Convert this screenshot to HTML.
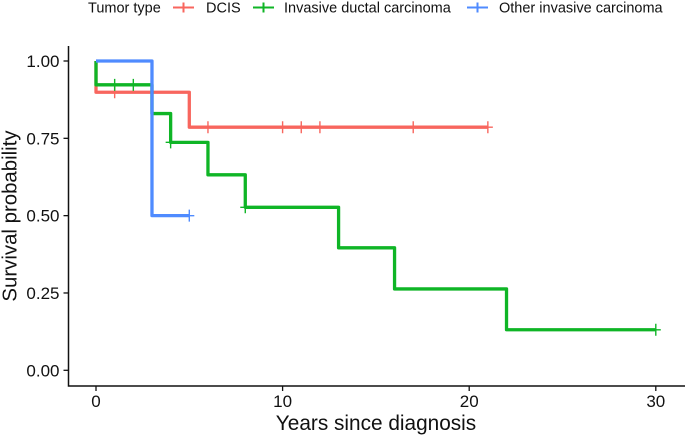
<!DOCTYPE html>
<html>
<head>
<meta charset="utf-8">
<style>
html,body{margin:0;padding:0;background:#fff;}
svg{display:block;font-family:"Liberation Sans",Arial,sans-serif;}
</style>
</head>
<body>
<svg id="chart" width="685" height="437" viewBox="0 0 685 437" xmlns="http://www.w3.org/2000/svg">
  <rect width="685" height="437" fill="#fff"/>
  <g font-size="14.5" fill="#111">
    <text x="88" y="12.500">Tumor type</text>
    <g>
      <path d="M173 7.500H194M183.500 2.500V12.500" stroke="#F8665E" stroke-width="2" fill="none"/>
      <text x="206" y="12.500">DCIS</text>
    </g>
    <g>
      <path d="M253 7.500H274M263.500 2.500V12.500" stroke="#0FB526" stroke-width="2" fill="none"/>
      <text x="284" y="12.500">Invasive ductal carcinoma</text>
    </g>
    <g>
      <path d="M467 7.500H488M477.500 2.500V12.500" stroke="#4F8BFF" stroke-width="2" fill="none"/>
      <text x="499" y="12.500">Other invasive carcinoma</text>
    </g>
  </g>
  <g id="marks"></g>
  <g id="axes"></g>
  <text x="376" y="430" font-size="20.800" text-anchor="middle" fill="#111">Years since diagnosis</text>
  <text transform="translate(16.500,216) rotate(-90)" font-size="20.400" text-anchor="middle" fill="#111">Survival probability</text>
</svg>
<script>
var xTicks = [0, 10, 20, 30];
var yTicks = [0, 0.25, 0.5, 0.75, 1];
var yTickLabels = ['0.00', '0.25', '0.50', '0.75', '1.00'];

var dcisTimes = [0, 5, 21];
var dcisSurvival = [0.899, 0.786, 0.786];
var dcisCensor = [1, 6, 10, 11, 12, 17, 21];

var ductalTimes = [0, 3, 4, 6, 8, 13, 16, 22, 30];
var ductalSurvival = [0.923, 0.83, 0.737, 0.632, 0.527, 0.396, 0.263, 0.131, 0.131];
var ductalCensor = [1, 2, 4, 8, 30];

var otherTimes = [0, 3, 5];
var otherSurvival = [1, 0.5, 0.5];
var otherCensor = [5];

function xScale(v) { return 96 + v * 18.66; }
function yScale(v) { return 370.3 - v * 309.3; }

var NS = 'http://www.w3.org/2000/svg';
var marks = document.getElementById('marks');
var axes = document.getElementById('axes');

function survivalAt(times, surv, t) {
  var s = 1;
  for (var i = 0; i < times.length; i++) { if (times[i] <= t) { s = surv[i]; } }
  return s;
}

function drawSeries(name, color, times, surv, censor) {
  var d = 'M' + xScale(0) + ' ' + yScale(1);
  for (var i = 0; i < times.length; i++) {
    d += 'V' + yScale(surv[i]) + 'H' + xScale(i + 1 < times.length ? times[i + 1] : times[i]);
  }
  var line = document.createElementNS(NS, 'path');
  
  
  line.setAttribute('d', d);
  line.setAttribute('fill', 'none');
  line.setAttribute('stroke', color);
  line.setAttribute('stroke-width', '3.300');
  line.setAttribute('stroke-linejoin', 'round');
  marks.appendChild(line);
  censor.forEach(function (t) {
    var cx = xScale(t), cy = yScale(survivalAt(times, surv, t));
    var m = document.createElementNS(NS, 'path');
    
    
    m.setAttribute('d', 'M' + (cx - 5) + ' ' + cy + 'H' + (cx + 5) + 'M' + cx + ' ' + (cy - 6) + 'V' + (cy + 6));
    m.setAttribute('fill', 'none');
    m.setAttribute('stroke', color);
    m.setAttribute('stroke-width', '1.400');
    marks.appendChild(m);
  });
}

drawSeries('dcis', '#F8665E', dcisTimes, dcisSurvival, dcisCensor);
drawSeries('invasive-ductal', '#0FB526', ductalTimes, ductalSurvival, ductalCensor);
drawSeries('other-invasive', '#4F8BFF', otherTimes, otherSurvival, otherCensor);

var axisLine = document.createElementNS(NS, 'path');


axisLine.setAttribute('d', 'M68.500 46V386H685');
axisLine.setAttribute('fill', 'none');
axisLine.setAttribute('stroke', '#111');
axisLine.setAttribute('stroke-width', '1.500');
axes.appendChild(axisLine);

xTicks.forEach(function (v) {
  var tick = document.createElementNS(NS, 'line');
  
  
  tick.setAttribute('x1', xScale(v));
  tick.setAttribute('x2', xScale(v));
  tick.setAttribute('y1', 386);
  tick.setAttribute('y2', 391);
  tick.setAttribute('stroke', '#111');
  tick.setAttribute('stroke-width', '1.300');
  axes.appendChild(tick);
  var label = document.createElementNS(NS, 'text');
  
  
  label.setAttribute('x', xScale(v));
  label.setAttribute('y', 407);
  label.setAttribute('font-size', '17');
  label.setAttribute('text-anchor', 'middle');
  label.setAttribute('fill', '#111');
  label.textContent = String(v);
  axes.appendChild(label);
});

yTicks.forEach(function (v, i) {
  var tick = document.createElementNS(NS, 'line');
  
  
  tick.setAttribute('x1', 63.500);
  tick.setAttribute('x2', 68.500);
  tick.setAttribute('y1', yScale(v));
  tick.setAttribute('y2', yScale(v));
  tick.setAttribute('stroke', '#111');
  tick.setAttribute('stroke-width', '1.300');
  axes.appendChild(tick);
  var label = document.createElementNS(NS, 'text');
  
  
  label.setAttribute('x', 59.500);
  label.setAttribute('y', yScale(v) + 6);
  label.setAttribute('font-size', '17');
  label.setAttribute('text-anchor', 'end');
  label.setAttribute('fill', '#111');
  label.textContent = yTickLabels[i];
  axes.appendChild(label);
});
</script>
</body>
</html>
